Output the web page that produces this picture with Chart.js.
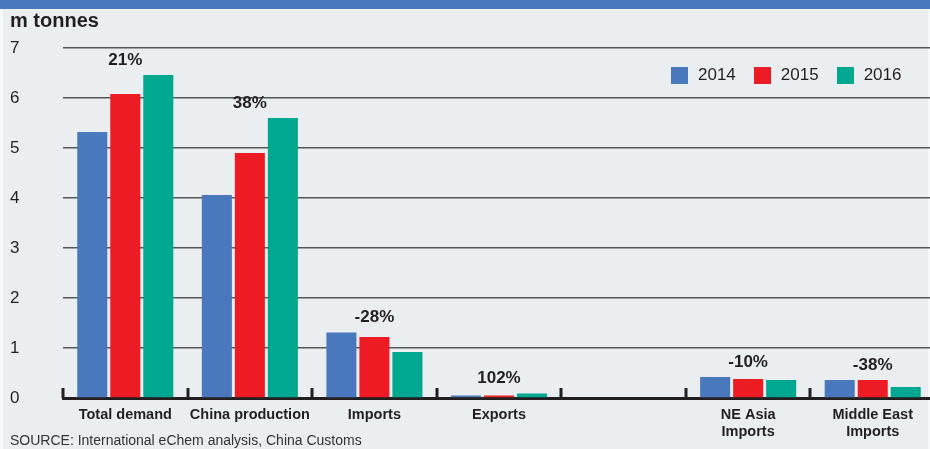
<!DOCTYPE html>
<html>
<head>
<meta charset="utf-8">
<script src="https://cdn.jsdelivr.net/npm/chart.js@4/dist/chart.umd.min.js"></script>
<style>
    html, body { margin: 0; padding: 0; overflow: hidden; }
    body { width: 930px; height: 449px; background: #eaeef1; position: relative; font-family: "Liberation Sans", Arial, sans-serif; color: #231f20; }
    .band { position: absolute; left: 0; top: 0; width: 930px; height: 9px; background: #4a78bc; }
    .edge-l { position: absolute; left: 0; top: 9px; width: 3px; height: 440px; background: #f6f8f9; }
    .edge-r { position: absolute; left: 928px; top: 9px; width: 2px; height: 440px; background: #f6f8f9; }
    .title { position: absolute; left: 10px; top: 9px; font-size: 20px; font-weight: bold; }
    .source { position: absolute; left: 10px; top: 432px; font-size: 14px; color: #333; }
    .legend { position: absolute; left: 671px; top: 65px; display: flex; align-items: center; font-size: 17px; }
    .legend span.box { display: inline-block; width: 17px; height: 17px; margin-right: 10px; }
    .legend span.lbl { margin-right: 18px; }
    .wrap { position: absolute; left: 0; top: 0; width: 936px; height: 449px; }
</style>
</head>
<body>
<div class="band"></div>
<div class="edge-l"></div>
<div class="edge-r"></div>
<div class="wrap"><canvas id="chart"></canvas></div>
<div class="title">m tonnes</div>
<div class="legend" id="legend"></div>
<div class="source">SOURCE: International eChem analysis, China Customs</div>
<script>
    const categories = ['Total demand', 'China production', 'Imports', 'Exports', '', ['NE Asia', 'Imports'], ['Middle East', 'Imports']];
    const seriesNames = ['2014', '2015', '2016'];
    const values2014 = [5.32, 4.06, 1.31, 0.05, null, 0.42, 0.36];
    const values2015 = [6.08, 4.90, 1.22, 0.05, null, 0.38, 0.36];
    const values2016 = [6.46, 5.60, 0.92, 0.09, null, 0.36, 0.22];
    const changeLabels = ['21%', '38%', '-28%', '102%', '', '-10%', '-38%'];
    const yTicks = [0, 1, 2, 3, 4, 5, 6, 7];

    const colors = ['#4a78bc', '#ed1c24', '#00a88f'];
    const dark = '#231f20';
    const seriesValues = [values2014, values2015, values2016];

    // legend as html
    const legend = document.getElementById('legend');
    seriesNames.forEach((name, i) => {
        legend.innerHTML += `<span class="box" style="background:${colors[i]}"></span><span class="lbl">${name}</span>`;
    });

    // upward tick marks at category boundaries
    const boundaryTicks = {
        id: 'boundaryTicks',
        afterDraw(chart) {
            const xs = chart.scales.x;
            const ctx = chart.ctx;
            const bottom = chart.chartArea.bottom;
            ctx.save();
            ctx.strokeStyle = dark;
            ctx.lineWidth = 3;
            for (let i = 0; i <= categories.length; i++) {
                const x = Math.round(xs.getPixelForValue(i - 0.5));
                ctx.beginPath();
                ctx.moveTo(x, bottom - 10);
                ctx.lineTo(x, bottom);
                ctx.stroke();
            }
            ctx.restore();
        }
    };

    // percentage change above each group
    const changeText = {
        id: 'changeText',
        afterDatasetsDraw(chart) {
            const xs = chart.scales.x;
            const ys = chart.scales.y;
            const ctx = chart.ctx;
            ctx.save();
            ctx.font = 'bold 17px "Liberation Sans", Arial, sans-serif';
            ctx.fillStyle = dark;
            ctx.textAlign = 'center';
            ctx.textBaseline = 'middle';
            changeLabels.forEach((txt, i) => {
                if (!txt) return;
                const top = Math.max(...seriesValues.map(s => s[i] || 0));
                ctx.fillText(txt, xs.getPixelForValue(i), ys.getPixelForValue(top) - 15);
            });
            ctx.restore();
        }
    };

    new Chart(document.getElementById('chart'), {
        type: 'bar',
        data: {
            labels: categories,
            datasets: seriesNames.map((name, i) => ({
                label: name,
                data: seriesValues[i],
                backgroundColor: colors[i],
                borderWidth: 0,
                categoryPercentage: 0.795,
                barPercentage: 0.91
            }))
        },
        options: {
            responsive: true,
            maintainAspectRatio: false,
            animation: false,
            layout: { padding: { left: 10, top: 48, right: 1, bottom: 6 } },
            plugins: {
                legend: { display: false },
                tooltip: { enabled: false }
            },
            scales: {
                x: {
                    grid: { display: false },
                    border: { display: true, color: dark, width: 3 },
                    ticks: {
                        color: dark,
                        padding: 0,
                        maxRotation: 0,
                        autoSkip: false,
                        font: { family: '"Liberation Sans", Arial, sans-serif', size: 14.5, weight: 'bold', lineHeight: 1.2 }
                    },
                    afterFit: (scale) => { scale.height = 45; }
                },
                y: {
                    min: 0,
                    max: 7,
                    afterBuildTicks: (scale) => { scale.ticks = yTicks.map(v => ({ value: v })); },
                    grid: { color: '#555', lineWidth: 1.5, drawTicks: false },
                    border: { display: false },
                    ticks: {
                        color: dark,
                        crossAlign: 'far',
                        padding: 0,
                        font: { family: '"Liberation Sans", Arial, sans-serif', size: 17 }
                    },
                    afterFit: (scale) => { scale.width = 53; }
                }
            }
        },
        plugins: [boundaryTicks, changeText]
    });
</script>
</body>
</html>
